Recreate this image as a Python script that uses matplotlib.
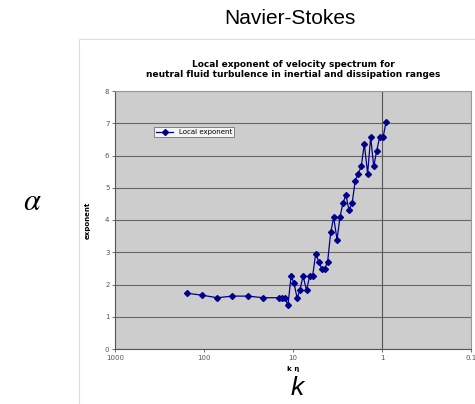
import numpy as np
import matplotlib.pyplot as plt
from matplotlib.patches import Rectangle

# k*eta values (log axis, reversed) and local exponent
k_eta = [156, 106, 71, 48, 32, 21.7, 14.4, 13.3, 12.3, 11.4, 10.5, 9.75, 9.0, 8.35,
         7.72, 7.05, 6.49, 6.01, 5.56, 5.14, 4.76, 4.41, 4.08, 3.77, 3.49, 3.20,
         2.97, 2.74, 2.54, 2.35, 2.16, 2.00, 1.85, 1.71, 1.58, 1.45, 1.34, 1.24,
         1.15, 1.06, 0.97, 0.90]
exponent = [1.73, 1.67, 1.59, 1.64, 1.64, 1.59, 1.59, 1.59, 1.59, 1.35, 2.27, 2.04,
            1.59, 1.82, 2.27, 1.82, 2.27, 2.27, 2.95, 2.71, 2.48, 2.48, 2.71, 3.62,
            4.08, 3.39, 4.08, 4.54, 4.77, 4.31, 4.54, 5.22, 5.44, 5.66, 6.36, 5.44,
            6.58, 5.66, 6.13, 6.58, 6.58, 7.04]
xticks = [1000, 100, 10, 1, 0.1]
xticklabels = ["1000", "100", "10", "1", "0.1"]

plt.rcParams["mathtext.fontset"] = "stix"

W, H = 475, 404
fig = plt.figure(figsize=(W/100, H/100), dpi=100)

# border of the pasted chart picture
fig.patches.append(Rectangle((79/W, -0.1), 1.0, 1.1 - 39/H, transform=fig.transFigure,
                             fill=False, edgecolor="#dddddd", linewidth=0.8))

ax = fig.add_axes([115/W, 1-349/H, 356/W, 258/H])
ax.set_facecolor("#cdcdcd")
ax.plot(k_eta, exponent, "-D", color="#00008b", markersize=3, linewidth=0.9,
        label="Local exponent")
ax.set_xscale("log")
ax.set_xlim(1000, 0.1)
ax.set_ylim(0, 8)
ax.set_xticks(xticks)
ax.set_xticklabels(xticklabels)
ax.minorticks_off()
ax.set_yticks(range(0, 9))
ax.yaxis.grid(True, color="#666666", linewidth=0.8)
ax.set_axisbelow(True)
ax.axvline(1, color="#555555", linewidth=0.8, zorder=1)
for s in ["top", "right"]:
    ax.spines[s].set_color("#999999")
    ax.spines[s].set_linewidth(0.8)
for s in ["left", "bottom"]:
    ax.spines[s].set_color("#555555")
    ax.spines[s].set_linewidth(0.8)
ax.tick_params(labelsize=5, colors="#555555", length=2, width=0.6, pad=2)

ax.set_ylabel("exponent", fontsize=5, fontweight="bold", labelpad=10)
ax.set_xlabel("k η", fontsize=5, fontweight="bold", labelpad=4)
ax.set_title("Local exponent of velocity spectrum for\nneutral fluid turbulence in inertial and dissipation ranges",
             fontsize=6.5, fontweight="bold", pad=10, linespacing=1.2)

leg = ax.legend(loc="upper left", bbox_to_anchor=(154/W, 1-127/H), bbox_transform=fig.transFigure,
                fontsize=5, frameon=True, fancybox=False, borderpad=0.3, handlelength=2.5,
                borderaxespad=0)
leg.get_frame().set_edgecolor("#555555")
leg.get_frame().set_linewidth(0.6)

fig.text(290/W, 1-18/H, "Navier-Stokes", fontsize=15, ha="center", va="center",
         family="Liberation Sans")
fig.text(32/W, 1-201/H, r"$\alpha$", fontsize=22, ha="center", va="center")
fig.text(297/W, 1-388/H, "k", fontsize=19, ha="center", va="center",
         family="Liberation Sans", style="italic")

fig.savefig("out.png", dpi=100)
